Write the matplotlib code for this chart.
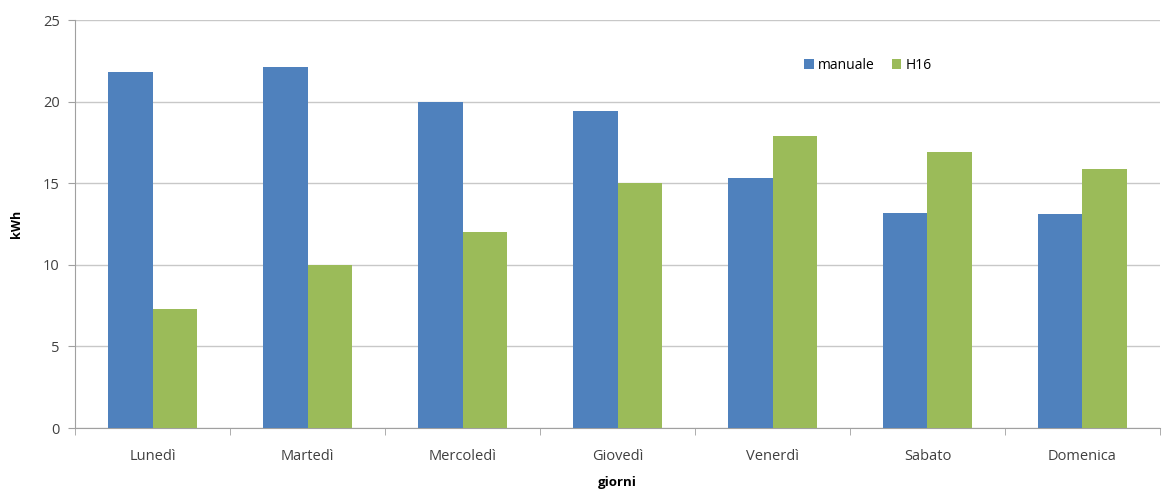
import numpy as np
import matplotlib.pyplot as plt

giorni = ['Lunedì', 'Martedì', 'Mercoledì', 'Giovedì', 'Venerdì', 'Sabato', 'Domenica']
manuale = [21.8, 22.1, 20.0, 19.4, 15.3, 13.2, 13.1]
h16 = [7.3, 10.0, 12.0, 15.0, 17.9, 16.9, 15.9]

plt.rcParams['font.family'] = ['Open Sans', 'DejaVu Sans']

fig = plt.figure(figsize=(11.65, 4.94), dpi=100)
ax = fig.add_axes([0.0644, 0.1336, 0.9313, 0.8259])

x = np.arange(len(giorni))
width = 0.285
ax.bar(x - width/2, manuale, width, color='#4F81BD', label='manuale', zorder=3)
ax.bar(x + width/2, h16, width, color='#9BBB59', label='H16', zorder=3)

ax.set_xlim(-0.5, len(giorni) - 0.5)
ax.set_ylim(0, 25)
ax.set_yticks([0, 5, 10, 15, 20, 25])
ax.yaxis.grid(True, color='#c8c8c8', linewidth=1, zorder=0)

ax.set_xticks(x)
ax.set_xticklabels(giorni, fontsize=10.5, color='#404040')
ax.set_xticks(np.arange(-0.5, len(giorni) + 0.5, 1), minor=True)
ax.tick_params(axis='x', which='major', length=0, pad=15)
ax.tick_params(axis='x', which='minor', length=5, color='#a0a0a0')
ax.tick_params(axis='y', length=5, color='#a0a0a0', labelsize=10.5, labelcolor='#404040', pad=6)

for side in ['top', 'right']:
    ax.spines[side].set_visible(False)
for side in ['left', 'bottom']:
    ax.spines[side].set_color('#a0a0a0')

ax.set_ylabel('kWh', fontsize=9, fontweight='bold', labelpad=14)
ax.set_xlabel('giorni', fontsize=9.5, fontweight='bold', labelpad=9)

ax.legend(loc='center', bbox_to_anchor=(0.745, 0.868), bbox_transform=fig.transFigure,
          ncol=2, frameon=False, fontsize=10, handlelength=0.7, handleheight=0.7,
          handletextpad=0.3, columnspacing=1.2)

plt.savefig('out.png', dpi=100)
